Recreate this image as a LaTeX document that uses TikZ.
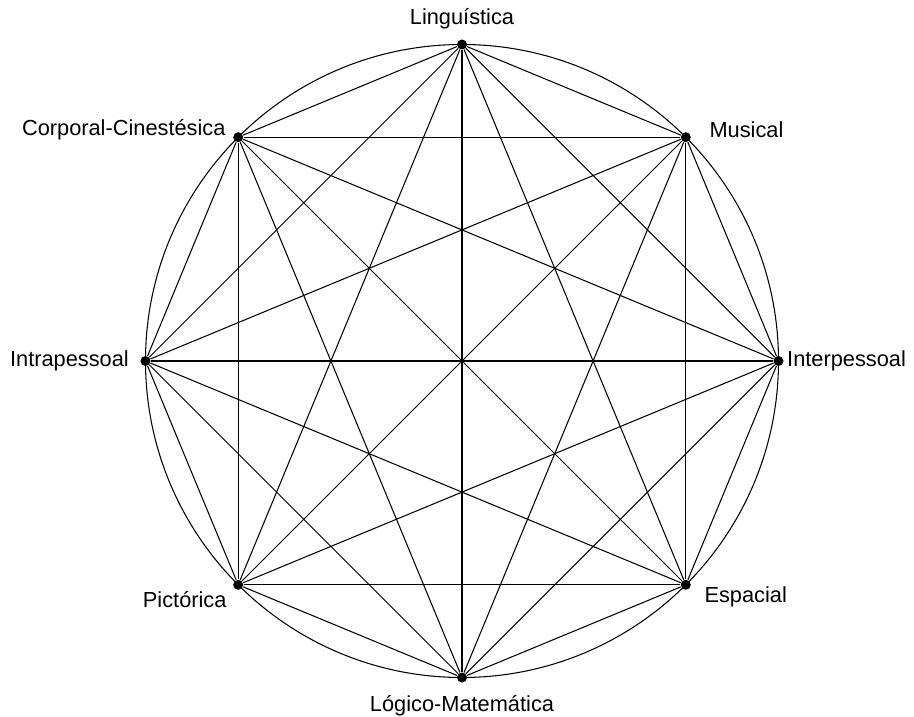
\documentclass[tikz,border=0pt]{standalone}
\usepackage{fontspec}
\setmainfont{Liberation Sans}
\usetikzlibrary{positioning}

\begin{document}
\begin{tikzpicture}[
  dot/.style={circle, fill=black, inner sep=0pt, minimum size=0.2cm},
  lab/.style={font=\fontsize{12.4}{14.9}\selectfont, inner sep=0pt},
  edge/.style={line width=0.6pt}
]
  \useasboundingbox (-9.24,-7.10) rectangle (9.04,7.22);
  \coordinate (o) at (0,0);
  \draw[edge] (o) circle (6.33);
  % the eight points on the circle
  \foreach \n [count=\k] in {ling,mus,inter,esp,logi,pic,intra,corp}
    \node[dot] (\n) at ({90-45*(\k-1)}:6.33) {};
  % every pair joined
  \foreach \a [count=\i] in {ling,mus,inter,esp,logi,pic,intra,corp}{
    \foreach \b [count=\j] in {ling,mus,inter,esp,logi,pic,intra,corp}{
      \ifnum\i<\j \draw[edge] (\a) -- (\b); \fi
    }
  }
  % labels
  \node[lab, above=0.2cm of ling] (tling) {Linguística};
  \node[lab, right=0.36cm of mus, yshift=0.14cm] (tmus) {Musical};
  \node[lab, right=0.06cm of inter] (tinter) {Interpessoal};
  \node[lab, right=0.26cm of esp, yshift=-0.24cm] (tesp) {Espacial};
  \node[lab, below=0.24cm of logi] (tlogi) {Lógico-Matemática};
  \node[lab, left=0.12cm of pic, yshift=-0.3cm] (tpic) {Pictórica};
  \node[lab, left=0.22cm of intra] (tintra) {Intrapessoal};
  \node[lab, left=0.14cm of corp, yshift=0.14cm] (tcorp) {Corporal-Cinestésica};
\end{tikzpicture}
\end{document}
